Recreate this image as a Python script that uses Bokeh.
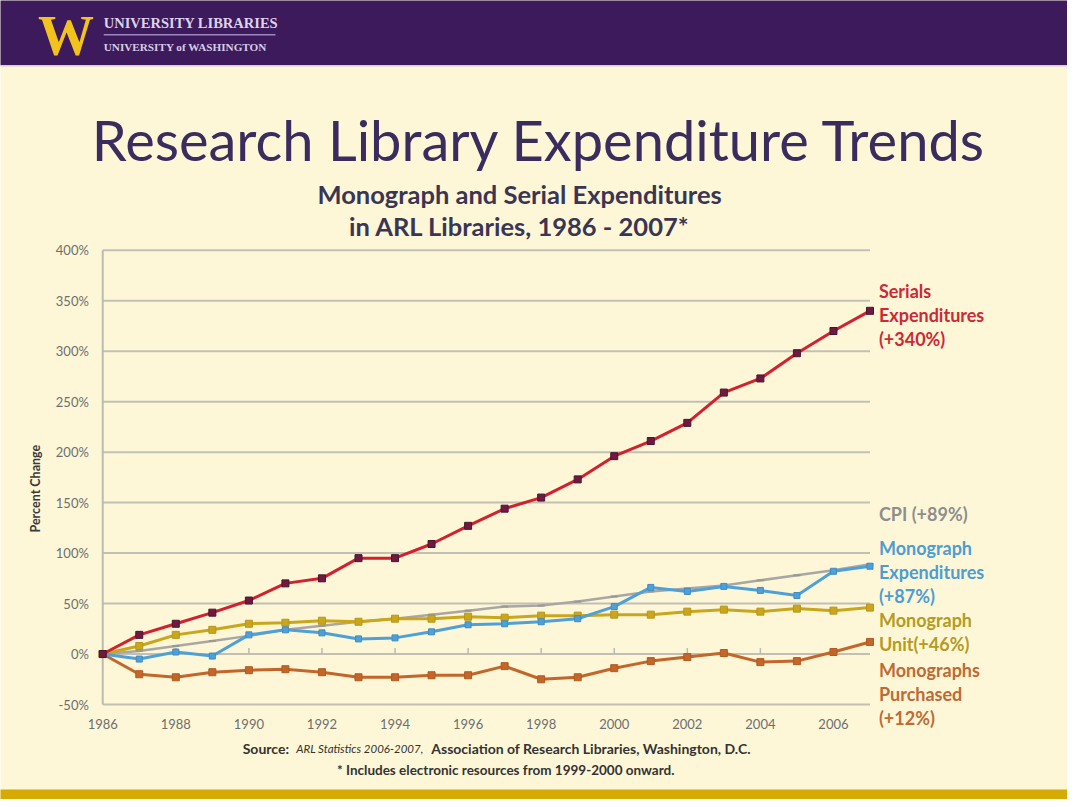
import math
from bokeh.plotting import figure
from bokeh.models import Range1d
from bokeh.core.properties import value
from bokeh.embed import file_html
from bokeh.resources import INLINE

# ---------------- data ----------------
years = [1986, 1987, 1988, 1989, 1990, 1991, 1992, 1993, 1994, 1995, 1996,
         1997, 1998, 1999, 2000, 2001, 2002, 2003, 2004, 2005, 2006, 2007]
serials = [0, 19, 30, 41, 53, 70, 75, 95, 95, 109, 127, 144, 155, 173, 196,
           211, 229, 259, 273, 298, 320, 340]
cpi = [0, 3, 8, 13, 18, 24, 28, 32, 35, 39, 43, 47, 48, 52, 57, 62, 65, 68,
       73, 78, 83, 89]
mono_exp = [0, -5, 2, -2, 19, 24, 21, 15, 16, 22, 29, 30, 32, 35, 47, 66, 62,
            67, 63, 58, 82, 87]
mono_unit = [0, 8, 19, 24, 30, 31, 33, 32, 35, 35, 37, 36, 38, 38, 39, 39, 42,
             44, 42, 45, 43, 46]
mono_purch = [0, -20, -23, -18, -16, -15, -18, -23, -23, -21, -21, -12, -25,
              -23, -14, -7, -3, 1, -8, -7, 2, 12]
x_ticks = [1986, 1988, 1990, 1992, 1994, 1996, 1998, 2000, 2002, 2004, 2006]
y_ticks = [-50, 0, 50, 100, 150, 200, 250, 300, 350, 400]
y_tick_labels = ["-50%", "0%", "50%", "100%", "150%", "200%", "250%",
                 "300%", "350%", "400%"]

title_text = "Research Library Expenditure Trends"
subtitle1 = "Monograph and Serial Expenditures"
subtitle2 = "in ARL Libraries, 1986 - 2007*"
y_axis_title = "Percent Change"
series_labels = {
    "serials": ["Serials", "Expenditures", "(+340%)"],
    "cpi": ["CPI (+89%)"],
    "mono_exp": ["Monograph", "Expenditures", "(+87%)"],
    "mono_unit": ["Monograph", "Unit(+46%)"],
    "mono_purch": ["Monographs", "Purchased", "(+12%)"],
}

W, H = 1067, 799
FONT = "Lato"
BG = "#FDF7D8"

# layout helpers: positions measured on the reference picture (pixels)
X0, XPX = 111, 36.81      # x of 1986, px per year
Y0, YPX = 661, 1.0133     # y of 0%, px per percent


def px2x(px):
    return years[0] + (px - X0) / XPX


def px2y(py):
    return (Y0 - py) / YPX


p = figure(width=W, height=H, output_backend="svg", toolbar_location=None,
           x_range=Range1d(px2x(8), px2x(1083)),
           y_range=Range1d(px2y(807), px2y(5)),
           min_border=0, min_border_left=0, min_border_right=0,
           min_border_top=0, min_border_bottom=0)
p.axis.visible = False
p.grid.visible = False
p.outline_line_color = None
p.background_fill_color = BG
p.border_fill_color = BG


def txt(x, y, s, size, color, style="normal", align="left",
        baseline="middle", font=FONT, angle=0.0):
    p.text(x=[x], y=[y], text=[s], text_font=value(font),
           text_font_size=size, text_font_style=style, text_color=color,
           text_align=align, text_baseline=baseline, angle=angle)


# ---------------- header band ----------------
p.quad(left=[px2x(0)], right=[px2x(1100)], top=[px2y(0)], bottom=[px2y(70)],
       fill_color="#3D1A5C", line_color=None)
p.segment(x0=[px2x(0)], y0=[px2y(71)], x1=[px2x(1100)], y1=[px2y(71)],
          line_color="#EADFD8", line_width=1.5)
txt(px2x(74), px2y(41), "W", "56px", "#F2C31B", style="bold",
    align="center", font="Liberation Serif")
txt(px2x(112), px2y(28), "UNIVERSITY LIBRARIES", "14.5px", "#DCD3EA",
    style="bold", font="Liberation Serif")
p.segment(x0=[px2x(112)], y0=[px2y(39.5)], x1=[px2x(285)], y1=[px2y(39.5)],
          line_color="#9C88BE", line_width=1.5)
txt(px2x(112), px2y(52), "UNIVERSITY of WASHINGTON", "11.2px", "#D6CCE6",
    style="bold", font="Liberation Serif")

# ---------------- footer band ----------------
p.quad(left=[px2x(0)], right=[px2x(1100)], top=[px2y(797)],
       bottom=[px2y(820)], fill_color="#D5AA02", line_color=None)

# ---------------- titles ----------------
txt(px2x(551), px2y(145), title_text, "56px", "#3B2C5E", align="center")
txt(px2x(531), px2y(199), subtitle1, "25.5px", "#3A3552", style="bold",
    align="center")
txt(px2x(531), px2y(231), subtitle2, "25.5px", "#3A3552", style="bold",
    align="center")

# ---------------- grid and axes ----------------
p.segment(x0=[years[0]] * len(y_ticks), y0=y_ticks,
          x1=[years[-1]] * len(y_ticks), y1=y_ticks,
          line_color="#C2C0B4", line_width=2)
p.segment(x0=[years[0]], y0=[y_ticks[0]], x1=[years[0]], y1=[y_ticks[-1]],
          line_color="#BDBBB0", line_width=2)
p.segment(x0=x_ticks[1:], y0=[0] * (len(x_ticks) - 1), x1=x_ticks[1:],
          y1=[6] * (len(x_ticks) - 1), line_color="#BDBBB0", line_width=1.5)

p.text(x=[px2x(97)] * len(y_ticks), y=y_ticks, text=y_tick_labels,
       text_font=value(FONT), text_font_size="13px", text_color="#6E6E6E",
       text_align="right", text_baseline="middle")
p.text(x=x_ticks, y=[px2y(731)] * len(x_ticks),
       text=[str(t) for t in x_ticks], text_font=value(FONT),
       text_font_size="13px", text_color="#6E6E6E", text_align="center",
       text_baseline="middle")
txt(px2x(43), px2y(495), y_axis_title, "12.5px", "#3A3A3A", style="bold",
    align="center", angle=math.pi / 2)

# ---------------- series ----------------
p.line(years, cpi, line_color="#A9A7A3", line_width=2.5)
p.scatter(years, cpi, marker="dash", size=7, line_color="#9A9894",
          line_width=2)
p.line(years, mono_purch, line_color="#C2662A", line_width=3)
p.scatter(years, mono_purch, marker="square", size=7, fill_color="#C2662A",
          line_color="#B05A22")
p.line(years, mono_unit, line_color="#C9A61C", line_width=3)
p.scatter(years, mono_unit, marker="square", size=7, fill_color="#C9A61C",
          line_color="#B8961A")
p.line(years, mono_exp, line_color="#4FA0D8", line_width=3)
p.scatter(years, mono_exp, marker="square", size=6, fill_color="#4FA0D8",
          line_color="#3F8CC4")
p.line(years, serials, line_color="#D2202E", line_width=3)
p.scatter(years, serials, marker="square", size=7, fill_color="#6E1A40",
          line_color="#4A1430")

# ---------------- series labels at right ----------------
label_specs = [
    ("serials", "#CC2936", 297),
    ("cpi", "#8E8E8E", 520),
    ("mono_exp", "#4D9DD3", 555),
    ("mono_unit", "#B59B22", 627),
    ("mono_purch", "#BF6A35", 677),
]
for key, color, top in label_specs:
    for i, line in enumerate(series_labels[key]):
        txt(px2x(893), px2y(top + 24 * i), line, "18px", color,
            style="bold")

# ---------------- source notes ----------------
txt(px2x(252), px2y(756), "Source:", "14px", "#333333", style="bold")
txt(px2x(306), px2y(756), "ARL Statistics 2006-2007,", "11.5px", "#333333",
    style="italic")
txt(px2x(442), px2y(756),
    "Association of Research Libraries, Washington, D.C.", "14px",
    "#333333", style="bold")
txt(px2x(517), px2y(777),
    "* Includes electronic resources from 1999-2000 onward.", "13.5px",
    "#333333", style="bold", align="center")

open("out.html", "w").write(file_html(p, INLINE))
